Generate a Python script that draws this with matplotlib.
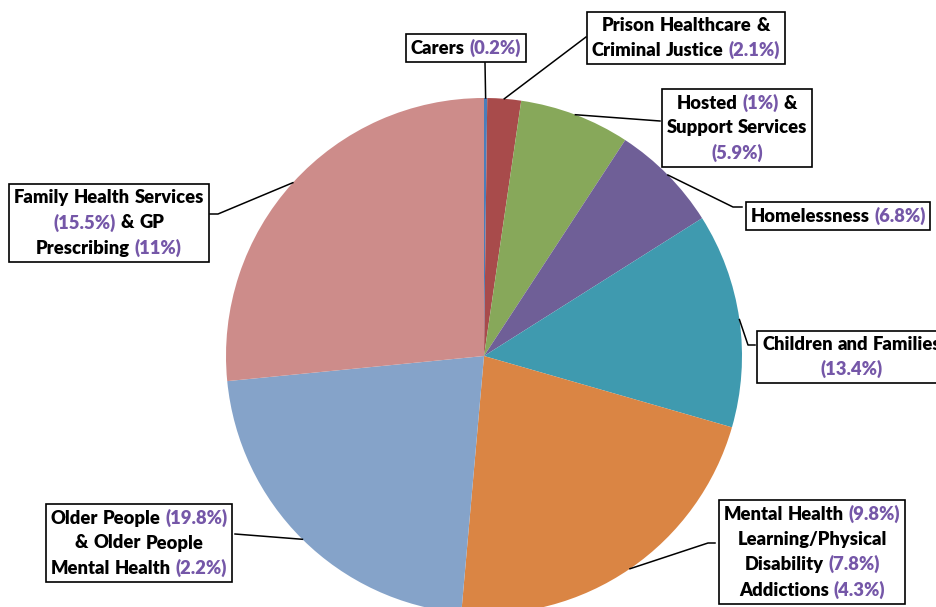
import re

import matplotlib

matplotlib.use("Agg")
import matplotlib.pyplot as plt
import numpy as np
from matplotlib.offsetbox import AnnotationBbox, HPacker, TextArea, VPacker

# slices, clockwise from 12 o'clock
segment_names = [
    "Carers",
    "Prison Healthcare & Criminal Justice",
    "Hosted & Support Services",
    "Homelessness",
    "Children and Families",
    "Mental Health, Learning/Physical Disability, Addictions",
    "Older People & Older People Mental Health",
    "Family Health Services & GP Prescribing",
]
segment_parts = [
    [0.2],
    [2.1],
    [1.0, 5.9],
    [6.8],
    [13.4],
    [9.8, 7.8, 4.3],
    [19.8, 2.2],
    [15.5, 11.0],
]
segment_values = [sum(p) for p in segment_parts]

label_lines = [
    ["Carers (0.2%)"],
    ["Prison Healthcare &", "Criminal Justice (2.1%)"],
    ["Hosted (1%) &", "Support Services", "(5.9%)"],
    ["Homelessness (6.8%)"],
    ["Children and Families", "(13.4%)"],
    ["Mental Health (9.8%)", "Learning/Physical", "Disability (7.8%)", "Addictions (4.3%)"],
    ["Older People (19.8%)", "& Older People", "Mental Health (2.2%)"],
    ["Family Health Services", "(15.5%) & GP", "Prescribing (11%)"],
]

colors = ["#4A7EBB", "#A84B4B", "#87A85A", "#6F5F97", "#3F9AAF", "#DA8544", "#85A3C9", "#CD8C8A"]
pct_color = "#7557A8"

# layout (pixels in the 937x607 canvas)
W, H = 937, 607
CX, CY, R = 484, 356, 258
box_centers = [(466, 48), (686, 38), (737, 128), (838, 216), (852, 357), (812, 552), (139, 543), (109, 223)]
leader_paths = [
    [(485, 63)],
    [(586, 37)],
    [(660, 121)],
    [(733, 207), (742, 207)],
    [(748, 345), (755, 345)],
    [(708, 543), (715, 543)],
    [(235, 534)],
    [(218, 214), (210, 214)],
]


def px(x, y):
    return (x - CX) / R, (CY - y) / R


fig = plt.figure(figsize=(W / 100, H / 100), dpi=100)
ax = fig.add_axes([0, 0, 1, 1])

wedges, _ = ax.pie(
    segment_values,
    colors=colors,
    startangle=90,
    counterclock=False,
    radius=1.0,
    center=(0, 0),
    wedgeprops=dict(linewidth=0),
)
ax.set_aspect("auto")
ax.set_xlim(px(0, 0)[0], px(W, 0)[0])
ax.set_ylim(px(0, H)[1], px(0, 0)[1])
ax.axis("off")
for w in wedges:
    w.set_clip_on(False)

font = dict(family=["Lato", "DejaVu Sans"], weight="heavy", size=13.2)
pct_re = re.compile(r"(\(\d+(?:\.\d+)?%\))")

for wedge, lines, center, path in zip(wedges, label_lines, box_centers, leader_paths):
    # leader from the slice's mid-point on the rim
    theta = np.deg2rad((wedge.theta1 + wedge.theta2) / 2)
    start = (np.cos(theta), np.sin(theta))
    pts = [start] + [px(*p) for p in path]
    ax.plot([p[0] for p in pts], [p[1] for p in pts], color="black", lw=1.1, zorder=3, clip_on=False)

    rows = []
    for line in lines:
        parts = []
        for tok in line.split(" "):
            col = pct_color if pct_re.fullmatch(tok) else "black"
            parts.append(TextArea(tok, textprops=dict(color=col, **font)))
        rows.append(HPacker(children=parts, align="baseline", pad=0, sep=3.5))
    box = VPacker(children=rows, align="center", pad=0, sep=5.5)
    ab = AnnotationBbox(
        box,
        px(*center),
        xycoords="data",
        frameon=True,
        pad=0.35,
        box_alignment=(0.5, 0.5),
        bboxprops=dict(edgecolor="black", facecolor="white", linewidth=1.2, boxstyle="square,pad=0.35"),
        zorder=4,
        annotation_clip=False,
    )
    ax.add_artist(ab)

fig.savefig("out.png", dpi=100)
